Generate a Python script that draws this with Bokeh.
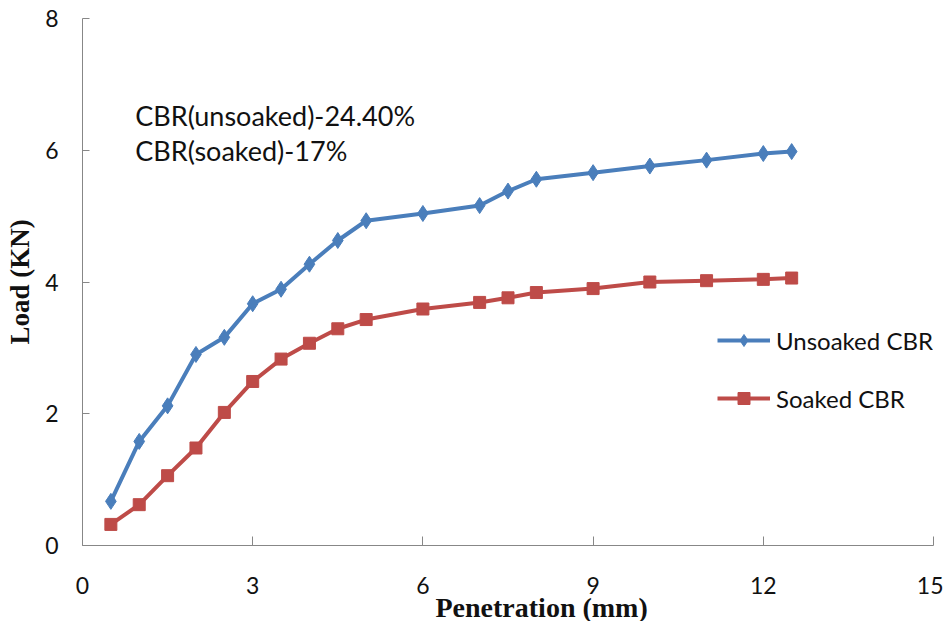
from bokeh.plotting import figure
from bokeh.models import Range1d, FixedTicker, Legend, LegendItem, Label, Title
from bokeh.embed import file_html
from bokeh.resources import INLINE

# Data
penetration = [0.5, 1, 1.5, 2, 2.5, 3, 3.5, 4, 4.5, 5, 6, 7, 7.5, 8, 9, 10, 11, 12, 12.5]
unsoaked = [0.67, 1.58, 2.12, 2.90, 3.16, 3.67, 3.89, 4.27, 4.63, 4.93, 5.04, 5.16, 5.38, 5.56, 5.66, 5.76, 5.85, 5.95, 5.98]
soaked = [0.32, 0.62, 1.06, 1.48, 2.02, 2.49, 2.83, 3.07, 3.29, 3.43, 3.59, 3.69, 3.76, 3.84, 3.90, 4.00, 4.02, 4.04, 4.06]
x_ticks = [0, 3, 6, 9, 12, 15]
y_ticks = [0, 2, 4, 6, 8]
series_names = ["Unsoaked CBR", "Soaked CBR"]
note_lines = ["CBR(unsoaked)-24.40%", "CBR(soaked)-17%"]
x_title = "Penetration (mm)"
y_title = "Load (KN)"

BLUE = "#4A7EBB"
RED = "#BE4B48"
SANS = "Lato"
SERIF = "Liberation Serif"

p = figure(width=943, height=621, output_backend="svg", toolbar_location=None,
           x_range=Range1d(0, 15), y_range=Range1d(0, 8),
           min_border_left=82, min_border_right=10, min_border_top=18, min_border_bottom=76)
p.outline_line_color = None
p.xgrid.visible = False
p.ygrid.visible = False
p.background_fill_color = "white"
p.border_fill_color = "white"

for ax in (p.xaxis[0], p.yaxis[0]):
    ax.axis_line_color = "#878787"
    ax.major_tick_line_color = "#878787"
    ax.minor_tick_line_color = None
    ax.major_tick_out = 0
    ax.major_label_text_font = SANS
    ax.major_label_text_font_size = "23px"
    ax.major_label_text_color = "#111111"

p.xaxis.ticker = FixedTicker(ticks=x_ticks)
p.yaxis.ticker = FixedTicker(ticks=y_ticks)
p.xaxis.major_tick_in = 9
p.yaxis.major_tick_in = 7
p.xaxis.major_label_standoff = 31
p.yaxis.major_label_standoff = 24

p.yaxis.axis_label = y_title
p.yaxis.axis_label_text_font = SERIF
p.yaxis.axis_label_text_font_style = "bold"
p.yaxis.axis_label_text_font_size = "27px"
p.yaxis.axis_label_standoff = 7
p.yaxis.axis_label_text_color = "#111111"

p.add_layout(Title(text=x_title, align="left", offset=353, standoff=-14,
                   text_font=SERIF, text_font_style="bold", text_font_size="28px",
                   text_color="#111111"), "below")

l1 = p.line(penetration, unsoaked, line_color=BLUE, line_width=4)
m1 = p.scatter(penetration, unsoaked, marker="diamond", size=16, fill_color=BLUE, line_color=BLUE)
l2 = p.line(penetration, soaked, line_color=RED, line_width=4)
m2 = p.scatter(penetration, soaked, marker="square", size=12, fill_color=RED, line_color=RED)

legend = Legend(items=[LegendItem(label=series_names[0], renderers=[l1, m1]),
                       LegendItem(label=series_names[1], renderers=[l2, m2])],
                location=(635, 132), glyph_width=53, glyph_height=30, label_standoff=6,
                spacing=28, padding=0, margin=0, border_line_color=None,
                background_fill_alpha=0, label_text_font=SANS, label_text_font_size="24px",
                label_text_color="#111111", label_height=30)
p.add_layout(legend, "center")

p.add_layout(Label(x=0.93, y=6.53, text=note_lines[0], text_font=SANS, text_font_size="27px",
                   text_color="#111111", text_baseline="alphabetic"))
p.add_layout(Label(x=0.93, y=6.0, text=note_lines[1], text_font=SANS, text_font_size="27px",
                   text_color="#111111", text_baseline="alphabetic"))

open("out.html", "w").write(file_html(p, INLINE))
